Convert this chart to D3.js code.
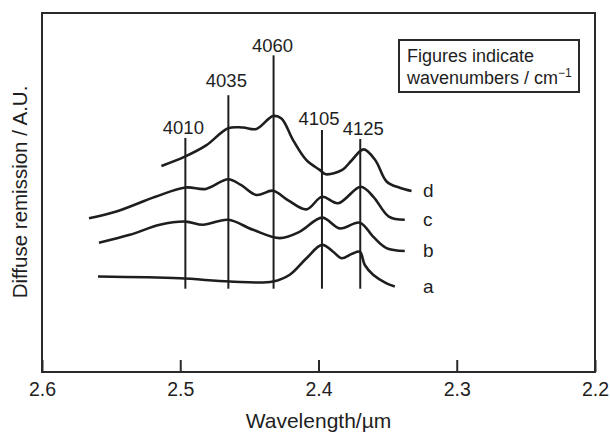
<!DOCTYPE html>
<meta charset="utf-8">
<script src="https://d3js.org/d3.v7.min.js"></script>
<style>
  body { margin: 0; background: #fff; }
  text { font-family: "Liberation Sans", Arial, Helvetica, sans-serif; fill: #1e1e1e; }
</style>
<body>
<div id="chart"></div>
<script>
  // wavelength (um) and remission (A.U.)
  var wlA = [2.5595, 2.5004, 2.4642, 2.4329, 2.4208, 2.4087, 2.3974, 2.3894, 2.3834, 2.3759, 2.3701, 2.3665, 2.3605, 2.3508, 2.3448];
  var valA = [2.66, 2.61, 2.52, 2.52, 2.71, 3.17, 3.54, 3.35, 3.17, 3.29, 3.35, 2.98, 2.71, 2.47, 2.38];

  var wlB = [2.5588, 2.5365, 2.5148, 2.4962, 2.4835, 2.4654, 2.4473, 2.4280, 2.4135, 2.3974, 2.3846, 2.3701, 2.3605, 2.3508, 2.3376];
  var valB = [3.60, 3.82, 4.10, 4.19, 4.10, 4.24, 3.96, 3.73, 3.91, 4.30, 4.00, 4.16, 3.77, 3.45, 3.37];

  var wlC = [2.5660, 2.5462, 2.5180, 2.4962, 2.4815, 2.4654, 2.4561, 2.4449, 2.4329, 2.4222, 2.4087, 2.3974, 2.3858, 2.3694, 2.3603, 2.3491, 2.3376];
  var valC = [4.28, 4.47, 4.88, 5.14, 5.10, 5.37, 5.21, 4.93, 5.05, 4.79, 4.53, 4.88, 4.70, 5.16, 4.88, 4.33, 4.24];

  var wlD = [2.5136, 2.4967, 2.4810, 2.4654, 2.4546, 2.4449, 2.4329, 2.4268, 2.4184, 2.4087, 2.3991, 2.3947, 2.3828, 2.3759, 2.3674, 2.3589, 2.3506, 2.3412, 2.3327];
  var valD = [5.74, 6.00, 6.32, 6.79, 6.81, 6.77, 7.13, 7.06, 6.46, 5.90, 5.63, 5.51, 5.63, 5.90, 6.20, 5.90, 5.30, 5.13, 5.04];

  var seriesNames = ["a", "b", "c", "d"];

  // marker lines: wavenumber label, position on wavelength axis, top of line
  var markLabels = ["4010", "4035", "4060", "4105", "4125"];
  var markWl = [2.4963, 2.4652, 2.4325, 2.3975, 2.3698];
  var markTop = [6.52, 7.71, 8.82, 6.74, 6.49];
  var markBottom = 2.32;

  var xTicks = [2.6, 2.5, 2.4, 2.3, 2.2];

  var W = 610, H = 433;
  var margin = {top: 13, right: 15, bottom: 61, left: 42};

  // small nudges of the wavenumber labels off their lines, as in the figure
  var labelDx = [-2, -2, -1, -3, 3];
  var labelGap = [4, 8, 3, 5, 4];

  var svg = d3.select("#chart").append("svg")
      .attr("width", W)
      .attr("height", H);

  var x = d3.scaleLinear().domain([2.6, 2.2]).range([margin.left, W - margin.right]);
  var y = d3.scaleLinear().domain([0, 10]).range([H - margin.bottom, margin.top]);

  // frame
  svg.append("rect")
      .attr("x", x(2.6)).attr("y", y(10))
      .attr("width", x(2.2) - x(2.6)).attr("height", y(0) - y(10))
      .attr("fill", "none").attr("stroke", "#2a2a2a").attr("stroke-width", 2);

  // x axis, ticks pointing inward
  var xAxis = d3.axisBottom(x)
      .tickValues(xTicks)
      .tickFormat(d3.format(".1f"))
      .tickSizeInner(-12)
      .tickSizeOuter(0)
      .tickPadding(10);
  var gx = svg.append("g")
      .attr("transform", "translate(0," + y(0) + ")")
      .call(xAxis);
  gx.select(".domain").remove();
  gx.selectAll("line").attr("stroke", "#2a2a2a").attr("stroke-width", 2);
  gx.selectAll("text")
      .style("font-family", '"Liberation Sans", Arial, sans-serif')
      .style("font-size", "19.5px")
      .attr("fill", "#1e1e1e");

  svg.append("text")
      .attr("x", x(2.4)).attr("y", 428)
      .attr("text-anchor", "middle")
      .style("font-size", "21px")
      .text("Wavelength/\u00b5m");

  svg.append("text")
      .attr("transform", "translate(27,192) rotate(-90)")
      .attr("text-anchor", "middle")
      .style("font-size", "20.5px")
      .text("Diffuse remission / A.U.");

  // vertical marker lines and wavenumber labels
  markLabels.forEach(function(lab, i) {
    svg.append("line")
        .attr("x1", x(markWl[i])).attr("x2", x(markWl[i]))
        .attr("y1", y(markBottom)).attr("y2", y(markTop[i]))
        .attr("stroke", "#1e1e1e").attr("stroke-width", 2);
    svg.append("text")
        .attr("x", x(markWl[i]) + labelDx[i]).attr("y", y(markTop[i]) - labelGap[i])
        .attr("text-anchor", "middle")
        .style("font-size", "18.5px")
        .text(lab);
  });

  // spectra
  var wls = [wlA, wlB, wlC, wlD];
  var vals = [valA, valB, valC, valD];
  var line = d3.line()
      .x(function(d) { return x(d[0]); })
      .y(function(d) { return y(d[1]); })
      .curve(d3.curveCatmullRom.alpha(0.5));

  seriesNames.forEach(function(name, i) {
    var pts = wls[i].map(function(w, j) { return [w, vals[i][j]]; });
    svg.append("path")
        .datum(pts)
        .attr("d", line)
        .attr("fill", "none")
        .attr("stroke", "#1e1e1e")
        .attr("stroke-width", 2.6)
        .attr("stroke-linejoin", "round");
    var last = pts[pts.length - 1];
    svg.append("text")
        .attr("x", 423)
        .attr("y", y(last[1]) + 6)
        .style("font-size", "19px")
        .text(name);
  });

  // legend box
  svg.append("rect")
      .attr("x", 399).attr("y", 40)
      .attr("width", 180).attr("height", 52)
      .attr("fill", "none").attr("stroke", "#2a2a2a").attr("stroke-width", 2);
  svg.append("text")
      .attr("x", 407).attr("y", 62)
      .style("font-size", "18px")
      .text("Figures indicate");
  var t2 = svg.append("text")
      .attr("x", 407).attr("y", 84)
      .style("font-size", "18px");
  t2.append("tspan").text("wavenumbers / cm");
  t2.append("tspan").attr("dy", -7).style("font-size", "12px").text("\u22121");
</script>
</body>
